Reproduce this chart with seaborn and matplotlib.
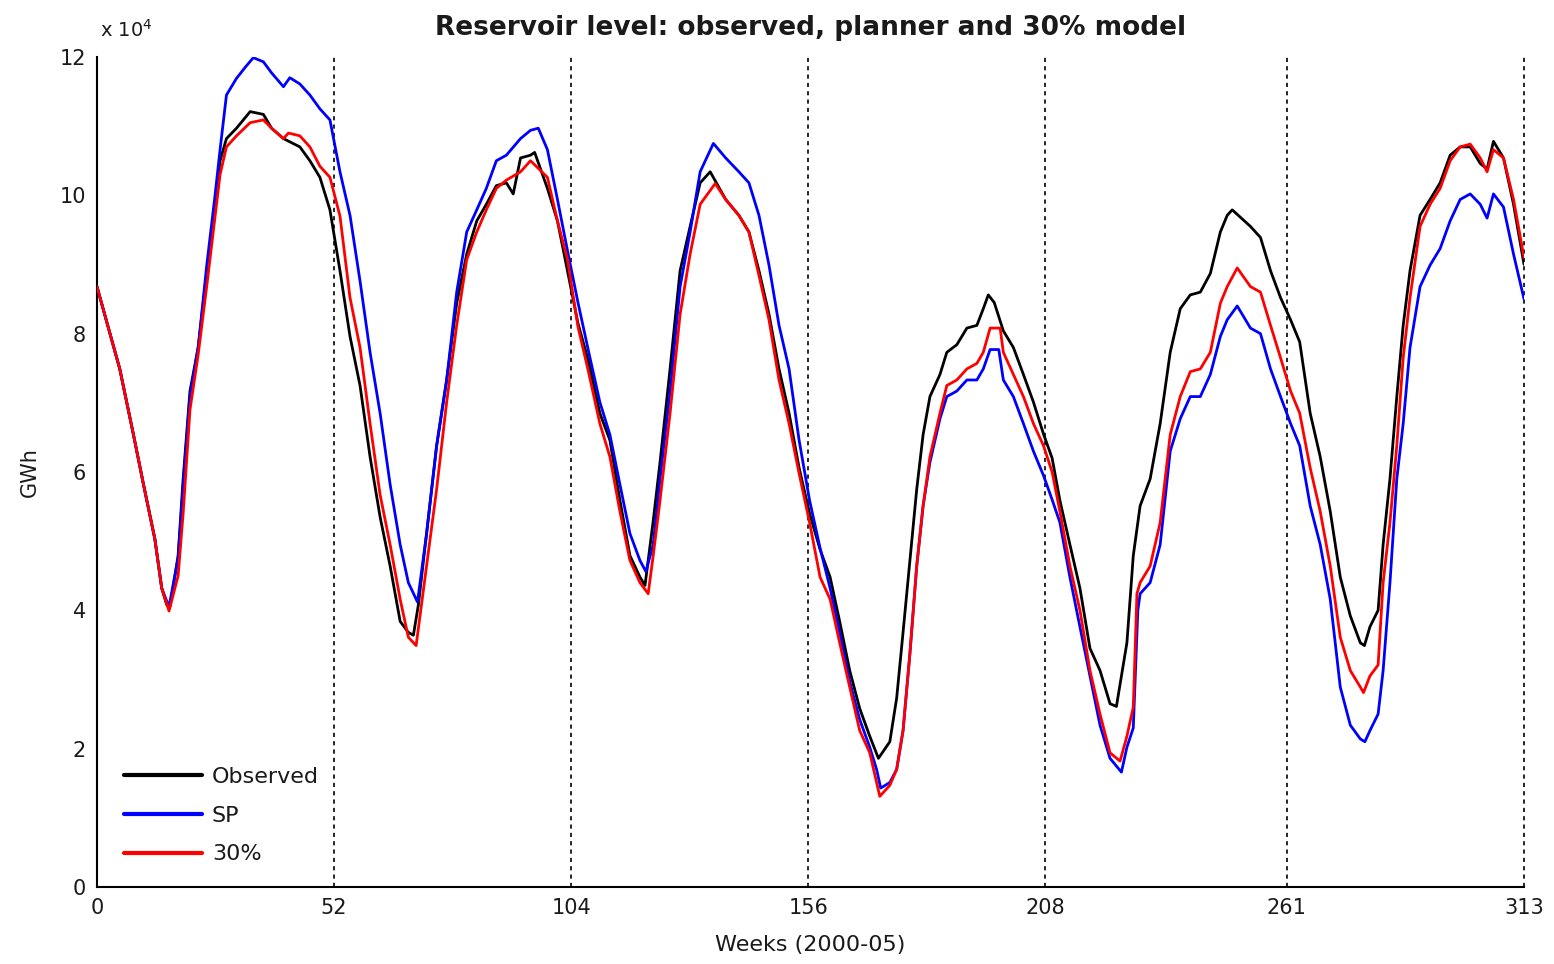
import numpy as np
import pandas as pd
import seaborn as sns
import matplotlib
matplotlib.use('Agg')
import matplotlib.pyplot as plt


# values (week, level in units of 1e4 GWh)
obs_weeks = [0, 5, 8, 10.2, 12.7, 14.2, 15.3, 16, 17.8, 18.9, 20.4, 22.2, 24.1, 25.9, 27.0, 28.4, 30.6, 33.6,
             36.5, 38.3, 40.9, 44.5, 46.7, 48.9, 51.1, 53.3, 55.5, 57.7, 59.9, 62.1, 64.3, 66.5, 68.3, 69.4,
             70.5, 72.3, 74.5, 76.7, 78.9, 81.1, 83.3, 85.4, 87.6, 89.8, 91.3, 92.9, 95.1, 96.0, 98.8, 101.0,
             103.2, 105.5, 107.8, 110.3, 112.5, 114.7, 116.9, 119.1, 120.2, 122.0, 123.5, 125.7, 127.9, 130.1,
             132.3, 134.5, 137.9, 140.8, 143.0, 145.2, 147.4, 149.6, 151.8, 154.0, 156.3, 158.6, 160.8, 162.9,
             165.1, 167.3, 169.5, 171.4, 173.9, 175.4, 176.8, 178.3, 179.8, 181.2, 182.7, 184.9, 186.4, 188.6,
             190.8, 193.0, 194.4, 195.5, 196.8, 198.8, 201.0, 203.2, 205.4, 207.6, 209.5, 211.2, 213.4, 215.6,
             217.8, 220.0, 222.2, 223.6, 225.9, 227.3, 228.8, 231.0, 233.2, 235.4, 237.6, 239.8, 242.0, 244.2,
             246.4, 247.9, 249.0, 253.0, 255.2, 257.4, 259.6, 261.8, 263.8, 266.1, 268.3, 270.5, 272.7, 274.9,
             277.1, 278.0, 279.2, 281.0, 282.1, 283.6, 285.1, 286.5, 288.0, 290.2, 292.4, 294.6, 296.8, 299.0,
             301.2, 303.4, 304.9, 306.3, 308.5, 310.7, 313]
obs_level = [8.68, 7.49, 6.54, 5.82, 5.03, 4.32, 4.08, 4.05, 4.79, 5.9, 7.17, 7.8, 8.9, 9.87, 10.5, 10.82, 10.97, 11.21,
             11.17, 10.97, 10.82, 10.70, 10.5, 10.26, 9.79, 8.91, 7.96, 7.25, 6.22, 5.35, 4.64, 3.84, 3.68, 3.64,
             4.08, 5.11, 6.38, 7.33, 8.44, 9.15, 9.63, 9.87, 10.14, 10.18, 10.02, 10.54, 10.58, 10.62, 10.10, 9.63,
             8.91, 8.15, 7.6, 6.85, 6.46, 5.59, 4.79, 4.48, 4.36, 5.29, 6.14, 7.49, 8.91, 9.55,
             10.18, 10.34, 9.94, 9.71, 9.47, 8.91, 8.28, 7.49, 6.85, 6.06, 5.4, 4.88, 4.48, 3.84,
             3.13, 2.58, 2.18, 1.86, 2.10, 2.73, 3.68, 4.72, 5.75, 6.54, 7.09, 7.41, 7.73, 7.84,
             8.08, 8.12, 8.36, 8.56, 8.45, 8.04, 7.80, 7.41, 7.01, 6.55, 6.2, 5.59, 4.95, 4.32,
             3.45, 3.13, 2.65, 2.61, 3.53, 4.79, 5.51, 5.90, 6.70, 7.73, 8.36, 8.56, 8.60, 8.87,
             9.47, 9.71, 9.79, 9.55, 9.39, 8.91, 8.52, 8.20, 7.88, 6.85, 6.22, 5.43, 4.48, 3.92,
             3.53, 3.49, 3.76, 4.0, 4.95, 5.90, 7.09, 8.12, 8.91, 9.71, 9.94, 10.18, 10.58, 10.70,
             10.70, 10.46, 10.38, 10.78, 10.54, 9.87, 9.0]

sp_weeks = [0, 5, 8, 10.2, 12.7, 14.2, 15.8, 17.8, 18.9, 20.4, 22.2, 24.1, 25.9, 27.0, 28.4, 30.6, 32.5, 34.3,
            36.5, 38.3, 40.9, 42.3, 44.5, 46.7, 48.9, 51.1, 53.3, 55.5, 57.7, 59.9, 62.1, 64.3, 66.5, 68.3,
            70.3, 72.3, 74.5, 76.7, 78.9, 81.1, 83.3, 85.4, 87.6, 89.8, 92.9, 95.1, 96.8, 98.8, 101.0, 103.2,
            105.5, 107.8, 110.3, 112.5, 114.7, 116.9, 119.1, 120.4, 122.0, 123.5, 125.7, 127.9, 130.1, 132.3,
            135.2, 137.9, 140.8, 143.0, 145.2, 147.4, 149.6, 151.8, 154.0, 156.3, 158.6, 160.8, 162.9, 165.1,
            167.3, 169.5, 171.0, 171.9, 173.9, 175.4, 176.8, 178.3, 179.8, 181.2, 182.7, 184.9, 186.4, 188.6,
            190.8, 193.0, 194.4, 195.9, 197.8, 198.8, 201.0, 203.2, 205.4, 207.6, 209.5, 211.2, 213.4, 215.6,
            217.8, 220.0, 222.2, 224.7, 225.9, 227.3, 228.3, 228.8, 231.0, 233.2, 235.4, 237.6, 239.8, 242.0,
            244.2, 246.4, 247.9, 250.1, 253.0, 255.2, 257.4, 259.6, 261.8, 263.8, 266.1, 268.3, 270.5, 272.7,
            274.9, 277.1, 278.1, 279.2, 281.0, 282.1, 283.6, 285.1, 286.5, 288.0, 290.2, 292.4, 294.6, 296.8,
            299.0, 301.2, 303.4, 304.9, 306.3, 308.5, 310.7, 313]
sp_level = [8.68, 7.49, 6.54, 5.82, 5.03, 4.32, 4.05, 4.75, 5.8, 7.1, 7.8, 9.0, 10.0, 10.66, 11.45, 11.69, 11.85, 11.99,
            11.93, 11.77, 11.57, 11.70, 11.61, 11.45, 11.25, 11.09, 10.34, 9.71, 8.76, 7.73, 6.85, 5.82, 4.95, 4.40,
            4.12, 5.11, 6.38, 7.33, 8.6, 9.47, 9.79, 10.1, 10.5, 10.58, 10.82, 10.94, 10.97, 10.66, 9.94, 9.2,
            8.45, 7.75, 7.01, 6.54, 5.82, 5.11, 4.72, 4.56, 4.95, 5.90, 7.17, 8.68, 9.47, 10.34,
            10.75, 10.54, 10.34, 10.18, 9.71, 8.99, 8.12, 7.49, 6.46, 5.59, 4.9, 4.32, 3.68, 2.97,
            2.42, 2.02, 1.7, 1.43, 1.51, 1.70, 2.26, 3.37, 4.64, 5.51, 6.14, 6.77, 7.09, 7.17,
            7.33, 7.33, 7.49, 7.77, 7.77, 7.33, 7.09, 6.70, 6.30, 5.95, 5.6, 5.27, 4.48, 3.76,
            3.05, 2.34, 1.86, 1.66, 2.02, 2.3, 4.0, 4.24, 4.40, 4.95, 6.30, 6.77, 7.09, 7.09,
            7.41, 7.96, 8.20, 8.40, 8.08, 8.00, 7.49, 7.09, 6.7, 6.38, 5.51, 4.95, 4.16, 2.89,
            2.34, 2.14, 2.10, 2.26, 2.50, 3.13, 4.40, 5.90, 6.70, 7.80, 8.68, 8.99, 9.23, 9.63,
            9.94, 10.02, 9.87, 9.67, 10.02, 9.83, 9.15, 8.5]

m30_weeks = [0, 5, 8, 10.2, 12.7, 14.2, 15.8, 17.8, 18.9, 20.4, 22.2, 24.1, 25.9, 27.0, 28.4, 30.6, 33.6, 36.5,
             38.3, 40.9, 42.0, 44.5, 46.7, 48.9, 51.1, 53.3, 55.5, 57.7, 59.9, 62.1, 64.3, 66.5, 68.3, 70.0,
             72.3, 74.5, 76.7, 78.9, 81.1, 83.3, 85.4, 87.6, 89.8, 92.9, 95.1, 98.8, 101.0, 103.2, 105.5, 107.8,
             110.3, 112.5, 114.7, 116.9, 119.1, 120.9, 122.0, 123.5, 125.7, 127.9, 130.1, 132.3, 135.6, 137.9,
             140.8, 143.0, 145.2, 147.4, 149.6, 151.8, 154.0, 156.3, 158.6, 160.8, 162.9, 165.1, 167.3, 169.5,
             171.7, 173.9, 175.4, 176.8, 178.3, 179.8, 181.2, 182.7, 184.9, 186.4, 188.6, 190.8, 193.0, 194.4,
             195.9, 198.1, 198.8, 201.0, 203.2, 205.4, 207.6, 209.5, 211.2, 213.4, 215.6, 217.8, 220.0, 222.2,
             224.4, 225.9, 227.3, 228.1, 228.8, 231.0, 233.2, 235.4, 237.6, 239.8, 242.0, 244.2, 246.4, 247.9,
             250.1, 253.0, 255.2, 257.4, 259.6, 261.8, 263.8, 266.1, 268.3, 270.5, 272.7, 274.9, 277.1, 277.8,
             279.2, 281.0, 282.1, 283.6, 285.1, 286.5, 288.0, 290.2, 292.4, 294.6, 296.8, 299.0, 301.2, 303.4,
             304.9, 306.3, 308.5, 310.7, 313]
m30_level = [8.68, 7.49, 6.54, 5.82, 5.03, 4.32, 3.99, 4.5, 5.4, 6.9, 7.7, 8.7, 9.7, 10.3, 10.7, 10.86, 11.05, 11.09,
             10.97, 10.82, 10.9, 10.86, 10.7, 10.42, 10.26, 9.7, 8.52, 7.8, 6.70, 5.67, 4.95, 4.16, 3.61, 3.49,
             4.64, 5.75, 7.01, 8.12, 9.07, 9.47, 9.79, 10.1, 10.22, 10.34, 10.5, 10.26, 9.63, 9.07, 8.1, 7.45,
             6.70, 6.22, 5.43, 4.72, 4.40, 4.24, 4.79, 5.59, 6.85, 8.28, 9.15, 9.87, 10.17, 9.94,
             9.71, 9.47, 8.84, 8.2, 7.33, 6.70, 5.98, 5.27, 4.48, 4.16, 3.53, 2.89, 2.26, 1.94,
             1.31, 1.47, 1.70, 2.26, 3.37, 4.64, 5.51, 6.22, 6.85, 7.25, 7.33, 7.49, 7.57, 7.73,
             8.08, 8.08, 7.73, 7.41, 7.09, 6.70, 6.38, 6.0, 5.43, 4.64, 4.0, 3.13, 2.50, 1.94,
             1.82, 2.18, 2.6, 4.24, 4.40, 4.64, 5.27, 6.54, 7.09, 7.45, 7.49, 7.73, 8.44, 8.68,
             8.95, 8.68, 8.60, 8.12, 7.65, 7.17, 6.85, 6.06, 5.43, 4.64, 3.61, 3.13, 2.89, 2.81,
             3.05, 3.21, 4.40, 5.27, 6.38, 7.65, 8.52, 9.55, 9.87, 10.10, 10.50, 10.70, 10.74, 10.54,
             10.34, 10.66, 10.54, 9.94, 9.1]

series_names = ['Observed', 'SP', '30%']
series_colors = ['black', 'blue', 'red']
year_ticks = [0, 52, 104, 156, 208, 261, 313]
level_ticks = [0, 2, 4, 6, 8, 10, 12]

frames = []
for name, w, v in zip(series_names, [obs_weeks, sp_weeks, m30_weeks], [obs_level, sp_level, m30_level]):
    frames.append(pd.DataFrame({'week': w, 'level': np.array(v) * 1e4, 'series': name}))
df = pd.concat(frames, ignore_index=True)

sns.set_style('white')
plt.rcParams['font.family'] = ['DejaVu Sans']
plt.rcParams['text.color'] = '#1a1a1a'
plt.rcParams['axes.labelcolor'] = '#1a1a1a'
plt.rcParams['xtick.color'] = 'black'
plt.rcParams['ytick.color'] = 'black'
plt.rcParams['xtick.labelcolor'] = '#1a1a1a'
plt.rcParams['ytick.labelcolor'] = '#1a1a1a'

fig = plt.figure(figsize=(15.54, 9.64), dpi=100)
ax = fig.add_axes([0.0624, 0.0799, 0.9183, 0.861])

# year separators
for t in year_ticks[1:]:
    ax.axvline(t, color='black', lw=1.2, linestyle=(0, (2.5, 2.5)), zorder=1, clip_on=False)

sns.lineplot(data=df, x='week', y='level', hue='series', palette=dict(zip(series_names, series_colors)),
             estimator=None, sort=False, linewidth=2, ax=ax, zorder=3)

ax.set_xlim(0, 313)
ax.set_ylim(0, 12e4)
ax.set_xticks(year_ticks)
ax.set_yticks([t * 1e4 for t in level_ticks])
ax.set_yticklabels([str(t) for t in level_ticks])
ax.annotate('x 10$^{4}$', xy=(0, 1), xycoords='axes fraction', xytext=(2, 12),
            textcoords='offset points', fontsize=14, ha='left', va='bottom')

ax.tick_params(direction='in', length=12, width=1.2, labelsize=15, pad=8)
for s in ['top', 'right']:
    ax.spines[s].set_visible(False)
for s in ['left', 'bottom']:
    ax.spines[s].set_linewidth(1.5)
    ax.spines[s].set_color('black')

ax.set_title('Reservoir level: observed, planner and 30% model', fontsize=19, fontweight='bold', pad=16)
ax.set_xlabel('Weeks (2000-05)', fontsize=16, labelpad=12)
ax.set_ylabel('GWh', fontsize=15, labelpad=14)

leg = ax.legend(loc='lower left', bbox_to_anchor=(0.005, 0.003), frameon=False, fontsize=16,
                handlelength=3.5, handletextpad=0.45, labelspacing=0.85)
for line in leg.get_lines():
    line.set_linewidth(3)

fig.savefig('out.png', dpi=100)
